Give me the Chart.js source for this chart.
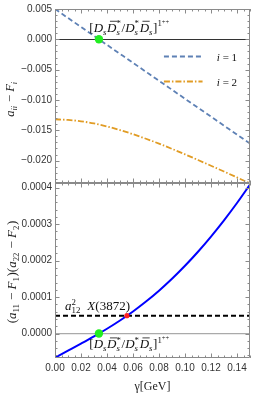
<!DOCTYPE html>
<html><head><meta charset="utf-8">
<script src="https://cdn.jsdelivr.net/npm/chart.js@4.4.0/dist/chart.umd.min.js"></script>
<style>
html,body{margin:0;padding:0;background:#fff;}
#wrap{position:relative;width:266px;height:395px;}
canvas{position:absolute;left:0;top:0;}
</style>
</head><body>
<div id="wrap"><canvas id="c1" width="266" height="395"></canvas><canvas id="c2" width="266" height="395"></canvas></div>
<script>
// ---------- data ----------
const gamma   = [0, 0.01, 0.02, 0.03, 0.04, 0.05, 0.06, 0.07, 0.08, 0.09, 0.10, 0.11, 0.12, 0.13, 0.14, 0.15];
const diag1   = [0.00500, 0.00352, 0.00204, 0.00056, -0.00092, -0.00240, -0.00388, -0.00536, -0.00684, -0.00832, -0.00980, -0.01128, -0.01276, -0.01424, -0.01572, -0.01720];
const diag2   = [-0.01320, -0.01330, -0.01352, -0.01388, -0.01437, -0.01497, -0.01565, -0.01640, -0.01721, -0.01807, -0.01897, -0.01990, -0.02085, -0.02181, -0.02278, -0.02376];
const product = [-6.600e-5, -4.682e-5, -2.758e-5, -0.777e-5, 1.322e-5, 3.593e-5, 6.072e-5, 8.790e-5, 11.772e-5, 15.034e-5, 18.591e-5, 22.447e-5, 26.605e-5, 31.057e-5, 35.810e-5, 40.867e-5];
const a12sq = 0.000049;
const thresholdGamma = [0.0338];
const thresholdValue = [0];
const x3872Gamma = [0.0553];
const x3872Value = [0.000049];
const xTicks = [0, 0.02, 0.04, 0.06, 0.08, 0.10, 0.12, 0.14];
const xTickLabels = ['0.00','0.02','0.04','0.06','0.08','0.10','0.12','0.14'];
const topYTicks = [0.005, 0, -0.005, -0.010, -0.015, -0.020];
const topYTickLabels = ['0.005','0.000','\u22120.005','\u22120.010','\u22120.015','\u22120.020'];
const botYTicks = [0, 0.0001, 0.0002, 0.0003, 0.0004];
const botYTickLabels = ['0.0000','0.0001','0.0002','0.0003','0.0004'];
const legendLabels = ['1', '2'];

// ---------- helpers ----------
const SERIF = '"Liberation Serif", "Times New Roman", serif';
const SANS = '"Liberation Sans", Arial, sans-serif';
const FRAME = '#8a8a8a';
function pts(xs, ys){ return xs.map((x,i)=>({x:x, y:ys[i]})); }
function setF(ctx, size, it){ ctx.font = (it?'italic ':'') + size + 'px ' + SERIF; }
function richLayout(ctx, segs, size, draw, x0, y){
  let x = x0;
  for (const s of segs){
    if (s.t !== undefined){
      setF(ctx, size, s.it);
      const w = ctx.measureText(s.t).width;
      if (draw){
        ctx.fillText(s.t, x, y);
        if (s.bar){
          ctx.save(); ctx.lineWidth = 0.8; ctx.beginPath();
          ctx.moveTo(x + w*0.3, y - size*0.8); ctx.lineTo(x + w + size*0.05, y - size*0.8); ctx.stroke(); ctx.restore();
        }
      }
      x += w + (s.sp||0);
    } else {
      const ss = size*0.68;
      setF(ctx, ss, s.it);
      let w = 0;
      if (s.sub !== undefined){ const ww = ctx.measureText(s.sub).width; if (draw) ctx.fillText(s.sub, x, y + size*0.22); w = Math.max(w, ww); }
      if (s.sup !== undefined){ setF(ctx, ss, s.supIt); const ww = ctx.measureText(s.sup).width; if (draw) ctx.fillText(s.sup, x + (s.supDx||0), y - size*0.40); w = Math.max(w, ww + (s.supDx||0)); }
      if (s.sup2 !== undefined){ setF(ctx, size*0.5, false); const ww = ctx.measureText(s.sup2).width; if (draw) ctx.fillText(s.sup2, x + w, y - size*0.62); w += ww; }
      x += w + size*0.05;
    }
  }
  return x - x0;
}
function drawRich(ctx, segs, x, y, size, align, color){
  ctx.save();
  ctx.fillStyle = color || '#111'; ctx.strokeStyle = color || '#111';
  ctx.textBaseline = 'alphabetic'; ctx.textAlign = 'left';
  const w = richLayout(ctx, segs, size, false, 0, 0);
  let sx = x;
  if (align === 'center') sx = x - w/2;
  if (align === 'right') sx = x - w;
  richLayout(ctx, segs, size, true, sx, y);
  ctx.restore();
}
const stateLabel = [
  {t:'['}, {t:'D', it:1}, {sub:'s', it:1}, {t:'D', it:1, bar:1}, {sub:'s', sup:'*', it:1},
  {t:'/'}, {t:'D', it:1}, {sub:'s', sup:'*', it:1}, {t:'D', it:1, bar:1}, {sub:'s', it:1},
  {t:']'}, {sup:'1', sup2:'++'}
];
const topYTitle = [{t:'a', it:1}, {sub:'ii', it:1}, {t:' \u2212 '}, {t:'F', it:1}, {sub:'i', it:1}];
const botYTitle = [{t:'('}, {t:'a', it:1}, {sub:'11'}, {t:' \u2212 '}, {t:'F', it:1}, {sub:'1'}, {t:')('},
                   {t:'a', it:1}, {sub:'22'}, {t:' \u2212 '}, {t:'F', it:1}, {sub:'2'}, {t:')'}];

function frameTicks(chart, xMinor, yMinor, yMajor, xMajor){
  const {ctx, chartArea:a} = chart;
  const xs = chart.scales.x, ys = chart.scales.y;
  ctx.save();
  ctx.strokeStyle = FRAME; ctx.lineWidth = 1;
  ctx.beginPath();
  ctx.rect(Math.round(a.left)+0.5, Math.round(a.top)+0.5, Math.round(a.right-a.left)-1, Math.round(a.bottom-a.top)-1);
  ctx.stroke();
  ctx.beginPath();
  const near = (v, st) => Math.abs(v/st - Math.round(v/st)) < 1e-6;
  for (let i = Math.ceil(xs.min/xMinor - 1e-9); i*xMinor <= xs.max + 1e-12; i++){
    const v = i*xMinor, px = Math.round(xs.getPixelForValue(v)) + 0.5;
    const L = near(v, xMajor) ? 4.5 : 2.5;
    ctx.moveTo(px, a.top); ctx.lineTo(px, a.top + L);
    ctx.moveTo(px, a.bottom); ctx.lineTo(px, a.bottom - L);
  }
  for (let i = Math.ceil(ys.min/yMinor - 1e-9); i*yMinor <= ys.max + 1e-12; i++){
    const v = i*yMinor, py = Math.round(ys.getPixelForValue(v)) + 0.5;
    const L = near(v, yMajor) ? 4.5 : 2.5;
    ctx.moveTo(a.left, py); ctx.lineTo(a.left + L, py);
    ctx.moveTo(a.right, py); ctx.lineTo(a.right - L, py);
  }
  ctx.stroke();
  ctx.restore();
}

const tickFont = {family: SANS, size: 10};
const baseOpts = {responsive:false, animation:false, devicePixelRatio:1,
  plugins:{legend:{display:false}, tooltip:{enabled:false}}, elements:{line:{cubicInterpolationMode:'monotone'}}};

// ---------- top chart ----------
const topPlugin = {id:'topDecor', afterDraw(chart){
  const ctx = chart.ctx, xs = chart.scales.x, ys = chart.scales.y;
  frameTicks(chart, 0.005, 0.001, 0.005, 0.02);
  drawRich(ctx, stateLabel, xs.getPixelForValue(0.0264), ys.getPixelForValue(0.00126), 13, 'left');
  const items = [{c:'#5E81B5', d:[5,3]}, {c:'#E19C24', d:[6,2,1.5,2]}];
  const ly = [-0.00275, -0.00688];
  items.forEach((it, k) => {
    const y = Math.round(ys.getPixelForValue(ly[k])) + 0.5;
    ctx.save(); ctx.strokeStyle = it.c; ctx.lineWidth = 1.8; ctx.setLineDash(it.d);
    ctx.beginPath(); ctx.moveTo(xs.getPixelForValue(0.0838), y); ctx.lineTo(xs.getPixelForValue(0.1135), y); ctx.stroke(); ctx.restore();
    drawRich(ctx, [{t:'i', it:1}, {t:' = ' + legendLabels[k]}], xs.getPixelForValue(0.1245), y + 4, 11, 'left');
  });
  ctx.save(); ctx.translate(14, 99); ctx.rotate(-Math.PI/2);
  drawRich(ctx, topYTitle, 0, 0, 12.5, 'center', '#222'); ctx.restore();
}};
new Chart(document.getElementById('c1'), {
  type:'line',
  data:{datasets:[
    {type:'scatter', data:pts(thresholdGamma, thresholdValue), pointRadius:4.2, pointBackgroundColor:'#22EE22', pointBorderWidth:0},
    {data:pts(gamma, diag1), borderColor:'#5E81B5', borderWidth:1.8, borderDash:[5,3], pointRadius:0, fill:false},
    {data:pts(gamma, diag2), borderColor:'#E19C24', borderWidth:1.8, borderDash:[6,2,1.5,2], pointRadius:0, fill:false}
  ]},
  options:Object.assign({}, baseOpts, {
    layout:{padding:{top:9, bottom:395-183, left:0, right:16}},
    scales:{
      x:{type:'linear', min:0, max:0.15, display:false},
      y:{type:'linear', min:-0.0237, max:0.005,
        afterBuildTicks(s){ s.ticks = topYTicks.map(v=>({value:v})); },
        afterFit(s){ s.width = 55; },
        ticks:{autoSkip:false, padding:3, color:'#333', font:tickFont, callback:(v,i)=>topYTickLabels[i]},
        grid:{drawTicks:false, color:(c)=> (c.tick && c.tick.value === 0) ? '#333' : 'rgba(0,0,0,0)', lineWidth:1},
        border:{display:false}
      }
    }
  }),
  plugins:[topPlugin]
});

// ---------- bottom chart ----------
const botPlugin = {id:'botDecor', afterDraw(chart){
  const ctx = chart.ctx, xs = chart.scales.x, ys = chart.scales.y;
  frameTicks(chart, 0.005, 0.00002, 0.0001, 0.02);
  drawRich(ctx, stateLabel, xs.getPixelForValue(0.0264), ys.getPixelForValue(-0.0000404), 13, 'left');
  drawRich(ctx, [{t:'a', it:1}, {sub:'12', sup:'2'}], xs.getPixelForValue(0.0077), ys.getPixelForValue(0.0000646), 13, 'left');
  drawRich(ctx, [{t:'X', it:1}, {t:'(3872)'}], xs.getPixelForValue(0.0249), ys.getPixelForValue(0.0000646), 13, 'left');
  ctx.save(); ctx.translate(16, 272); ctx.rotate(-Math.PI/2);
  drawRich(ctx, botYTitle, 0, 0, 13, 'center', '#222'); ctx.restore();
}};
new Chart(document.getElementById('c2'), {
  type:'line',
  data:{datasets:[
    {type:'scatter', data:pts(x3872Gamma, x3872Value), pointRadius:2.6, pointBackgroundColor:'#FF2020', pointBorderWidth:0},
    {type:'scatter', data:pts(thresholdGamma, thresholdValue), pointRadius:4.2, pointBackgroundColor:'#22EE22', pointBorderWidth:0},
    {data:pts(gamma, product), borderColor:'#0000FF', borderWidth:2, pointRadius:0, fill:false},
    {data:pts([0, 0.15], [a12sq, a12sq]), borderColor:'#000', borderWidth:2, borderDash:[5,3], pointRadius:0, fill:false}
  ]},
  options:Object.assign({}, baseOpts, {
    layout:{padding:{top:183, bottom:0, left:0, right:16}},
    scales:{
      x:{type:'linear', min:0, max:0.15, position:'bottom',
        afterBuildTicks(s){ s.ticks = xTicks.map(v=>({value:v})); },
        afterFit(s){ s.height = 37; },
        ticks:{autoSkip:false, maxRotation:0, padding:4, color:'#333', font:tickFont, callback:(v,i)=>xTickLabels[i]},
        grid:{display:false, drawTicks:false}, border:{display:false},
        title:{display:true, text:'\u03b3[GeV]', color:'#222', font:{family:SERIF, size:12}, padding:{top:0, bottom:1}}
      },
      y:{type:'linear', min:-0.000067, max:0.000413,
        afterBuildTicks(s){ s.ticks = botYTicks.map(v=>({value:v})); },
        afterFit(s){ s.width = 55; },
        ticks:{autoSkip:false, padding:3, color:'#333', font:tickFont, callback:(v,i)=>botYTickLabels[i]},
        grid:{drawTicks:false, color:(c)=> (c.tick && c.tick.value === 0) ? '#aaaaaa' : 'rgba(0,0,0,0)', lineWidth:1.2},
        border:{display:false}
      }
    }
  }),
  plugins:[botPlugin]
});
</script>
</body></html>
